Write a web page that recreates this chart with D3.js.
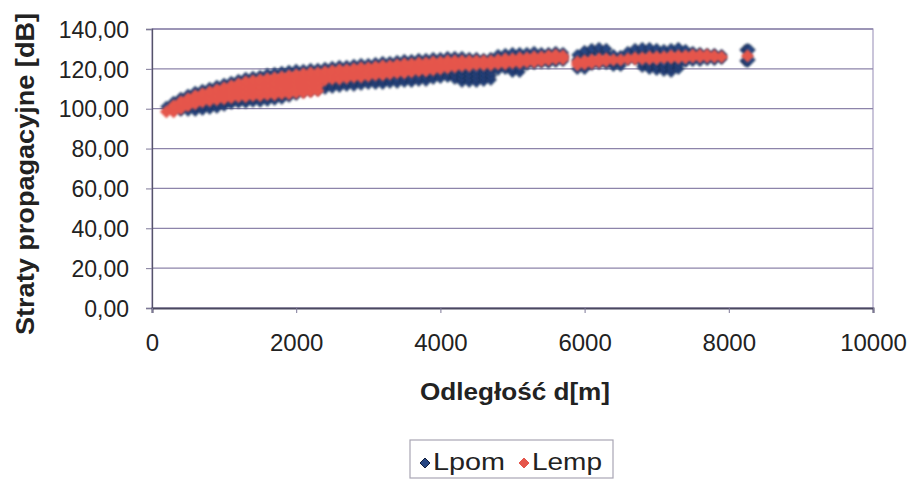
<!DOCTYPE html>
<html>
<head>
<meta charset="utf-8">
<script src="https://cdn.jsdelivr.net/npm/d3@7"></script>
<style>
  html, body { margin: 0; padding: 0; background: #fff; }
  svg { display: block; font-family: "Liberation Sans", Arial, sans-serif; }
</style>
</head>
<body>
<svg id="chart" width="913" height="481"></svg>
<script>
// Propagation loss vs. distance: measured (Lpom) and empirical model (Lemp).
// Each distance bin [m] holds the loss values [dB] recorded in that bin.
const distance = [
  200, 300, 400, 500, 600, 700, 800, 900, 1000, 1100,
  1200, 1300, 1400, 1500, 1600, 1700, 1800, 1900, 2000, 2100,
  2200, 2300, 2400, 2500, 2600, 2700, 2800, 2900, 3000, 3100,
  3200, 3300, 3400, 3500, 3600, 3700, 3800, 3900, 4000, 4100,
  4200, 4300, 4400, 4500, 4600, 4700, 4800, 4900, 5000, 5100,
  5200, 5300, 5400, 5500, 5600, 5700,
  5900, 6000, 6100, 6200, 6300, 6400, 6500, 6600, 6700, 6800,
  6900, 7000, 7100, 7200, 7300, 7400, 7500, 7600, 7700, 7800, 7900,
  8230, 8260, 8290
];

const lpom = [
  [101], [100, 103.5], [99, 102, 105.5], [99, 101.5, 104, 107], [99, 101, 103, 106, 108.5],
  [99.5, 101.5, 103.5, 106.5, 109.5], [100, 102, 104, 107, 110.5], [100.5, 102.5, 104.5, 108, 111.5],
  [101.5, 103.5, 105, 109, 112.5], [102.5, 104.5, 106, 110, 113.5],
  [103, 105, 107, 111, 114.5], [103, 105, 106.5, 111, 115.5], [103.5, 105.5, 107, 112, 116],
  [103.5, 105.5, 107, 112.5, 116.5], [104, 106, 107.5, 113, 117.5], [104.5, 106.5, 108, 113.5, 118],
  [105, 107, 108.5, 114, 118.5], [106, 108, 115, 119], [107, 109, 115.5, 119.5], [108.5, 112, 116, 119.5],
  [109, 113, 116.5, 120], [109.5, 113.5, 117, 120], [110, 112, 114, 117, 120.5],
  [110.5, 112.5, 114.5, 117.5, 121], [111, 113, 115, 118, 121.5], [111.5, 113.5, 115.5, 118.5, 121.5],
  [111.5, 113.5, 115.5, 119, 122], [112, 114, 116, 119, 122.5], [112.5, 114.5, 116.5, 119.5, 122.5],
  [112.5, 114.5, 116.5, 120, 123],
  [112.5, 114.5, 116.5, 120.5, 123.5], [113, 115, 117, 120.5, 123.5], [113, 115, 117.5, 121, 124],
  [113.5, 115.5, 117.5, 121, 124.5], [113.5, 115.5, 118, 121.5, 124.5], [114, 116, 118.5, 122, 125],
  [114, 116, 118, 121.5, 125], [115, 117, 119, 122.5, 125.5], [115.5, 117.5, 119.5, 122, 125.5],
  [116, 118, 120, 123, 126],
  [115, 117, 119, 121, 123.5, 126], [113.5, 115.5, 117.5, 119.5, 121.5, 126],
  [113.5, 115.5, 117.5, 119.5, 121.5, 125.5], [113.5, 115.5, 117.5, 119.5, 122, 125.5],
  [114, 116, 118, 120, 122, 125], [114.5, 116.5, 118.5, 120.5, 122.5, 125.5],
  [119.5, 121.5, 124, 127], [120, 122, 124.5, 127.5], [118.5, 120.5, 123, 125.5, 128],
  [118.5, 120.5, 123, 125.5, 128],
  [122, 124.5, 128], [122.5, 125, 128.5], [123, 125.5, 128], [123, 125.5, 128],
  [123.5, 126, 128.5], [124, 126, 128],
  [120, 124.5, 127], [120, 122, 126, 129], [122, 127, 130], [122.5, 127.5, 130.5],
  [122.5, 127.5, 130], [121.5, 123.5, 127], [121.5, 123.5, 126.5], [124.5, 128.5],
  [125, 127.5, 130], [121, 123, 127.5, 130.5],
  [120, 122, 124, 128, 130.5], [119.5, 121.5, 123.5, 128, 130], [119, 121, 123, 127.5, 129.5],
  [118.5, 120.5, 122.5, 124.5, 130], [120, 122, 124, 128, 130.5], [123.5, 127.5, 129.5],
  [124, 128.5], [124, 128], [124.5, 127.5], [124.5, 127.5], [125, 127],
  [124, 129.5], [123.5, 130], [124.5, 129.5]
];

const lemp = [
  [98.5], [98.5, 100, 101.5], [100, 102, 103.5], [101.5, 103.5, 105], [102.5, 104.5, 106.5],
  [103.5, 105.5, 107.5], [104, 106, 108.5], [104.5, 107, 109.5], [105, 107, 109, 110.5],
  [105.5, 107.5, 109.5, 111.5],
  [106, 108, 110.5, 112.5], [106, 108.5, 111, 113.5], [106.5, 109, 111.5, 114],
  [106.5, 109, 112, 114.5], [107, 109.5, 112.5, 115], [107, 110, 113, 115.5],
  [107.5, 110.5, 113.5, 116], [107.5, 110, 112.5, 114.5, 116.5], [108, 110.5, 113, 115, 117],
  [108, 110.5, 113, 115.5, 117.5],
  [108.5, 111, 113.5, 116, 118], [109, 111.5, 114, 116.5, 118], [114.5, 116.5, 118.5],
  [115, 117, 119], [115, 117.5, 119.5], [115.5, 117.5, 119.5], [116, 118, 120],
  [116, 118.5, 120.5], [116.5, 118.5, 120.5], [117, 119, 121],
  [117, 119.5, 121.5], [117.5, 119.5, 121.5], [118, 120, 122], [118, 120.5, 122.5],
  [118.5, 120.5, 122.5], [119, 121, 123], [119, 121, 123], [119.5, 121.5, 123.5],
  [120, 122, 123.5], [120.5, 122.5, 124],
  [121, 122.5, 124], [121.5, 124], [121.5, 124], [122, 124], [122, 124], [122, 124],
  [122.5, 124.5], [122.5, 125], [123, 125], [123, 125.5],
  [123.5, 125.5], [123.5, 126], [124, 126], [124.5, 126.5], [125, 127], [125, 126.5],
  [122, 123.5], [122.5, 124], [123, 124.5], [123.5, 125], [124, 125], [124.5], [124.5],
  [125], [125, 125.5], [125, 125.5],
  [125, 126], [125, 126], [125.5, 126], [125.5, 126.5], [125.5, 126.5], [125.5, 126.5],
  [126, 127], [126, 127], [126, 127], [126, 126.5], [126],
  [], [126.5], []
];

const yTicks = [0, 20, 40, 60, 80, 100, 120, 140];
const xTicks = [0, 2000, 4000, 6000, 8000, 10000];
const seriesNames = ["Lpom", "Lemp"];

const svg = d3.select("#chart");
const x = d3.scaleLinear().domain([0, 10000]).range([152, 873]);
const y = d3.scaleLinear().domain([0, 140]).range([308, 29]);

const colors = { Lpom: { fill: "#274683", stroke: "#121f3d" }, Lemp: { fill: "#e5564c", stroke: "#e5564c" } };
const diamond = r => `M0,${-r}L${r},0L0,${r}L${-r},0Z`;
const comma = d3.formatLocale({ decimal: ",", thousands: " ", grouping: [3], currency: ["", ""] });
const fmtY = comma.format(".2f");

// soft edge for the dense marker clouds
const defs = svg.append("defs");
defs.append("filter").attr("id", "soft").attr("x", "-5%").attr("y", "-20%")
  .attr("width", "110%").attr("height", "140%")
  .append("feGaussianBlur").attr("stdDeviation", 0.9);

// plot frame and horizontal gridlines
svg.append("rect")
  .attr("x", x(0)).attr("y", y(140))
  .attr("width", x(10000) - x(0)).attr("height", y(0) - y(140))
  .attr("fill", "none").attr("stroke", "#a79fc2").attr("stroke-width", 1.2);

svg.append("g").selectAll("line").data(yTicks.filter(v => v > 0)).join("line")
  .attr("x1", x(0)).attr("x2", x(10000))
  .attr("y1", d => y(d)).attr("y2", d => y(d))
  .attr("stroke", "#8d84aa").attr("stroke-width", 1.3);

// axes
const yAxis = svg.append("g").attr("transform", `translate(${x(0)},0)`)
  .call(d3.axisLeft(y).tickValues(yTicks).tickSize(6).tickPadding(17).tickFormat(fmtY));
yAxis.select(".domain").attr("stroke", "#55536a").attr("stroke-width", 1.3);
yAxis.selectAll(".tick line").attr("stroke", "#7d7898");
yAxis.selectAll(".tick text").attr("font-size", 23).attr("fill", "#222").attr("dy", "0.36em");

const xAxis = svg.append("g").attr("transform", `translate(0,${y(0)})`)
  .call(d3.axisBottom(x).tickValues(xTicks).tickSize(5).tickPadding(21).tickFormat(d3.format("d")));
xAxis.select(".domain").attr("stroke", "#4a4860").attr("stroke-width", 2);
xAxis.selectAll(".tick line").attr("stroke", "#7d7898");
xAxis.selectAll(".tick text").attr("font-size", 24).attr("fill", "#222");

// scatter points, measured first so the model band lies on top
const seriesData = { Lpom: lpom, Lemp: lemp };
const sizes = { Lpom: 5.5, Lemp: 5.5 };
seriesNames.forEach(name => {
  const pts = distance.flatMap((d, i) => seriesData[name][i].map(v => ({ d, v })));
  svg.append("g").attr("filter", "url(#soft)")
    .selectAll("path").data(pts).join("path")
    .attr("d", diamond(sizes[name]))
    .attr("transform", p => `translate(${x(p.d)},${y(p.v)})`)
    .attr("fill", colors[name].fill)
    .attr("stroke", colors[name].stroke)
    .attr("stroke-width", name === "Lemp" ? 1.5 : 1);
});

// axis titles
svg.append("text")
  .attr("transform", `translate(34,174) rotate(-90)`)
  .attr("text-anchor", "middle").attr("font-weight", "bold").attr("font-size", 25)
  .attr("fill", "#222")
  .attr("textLength", 322).attr("lengthAdjust", "spacingAndGlyphs")
  .text("Straty propagacyjne [dB]");

svg.append("text")
  .attr("x", 515).attr("y", 400)
  .attr("text-anchor", "middle").attr("font-weight", "bold").attr("font-size", 24)
  .attr("fill", "#222")
  .attr("textLength", 190).attr("lengthAdjust", "spacingAndGlyphs")
  .text("Odległość d[m]");

// legend
const legend = svg.append("g");
legend.append("rect").attr("x", 410).attr("y", 440).attr("width", 203).attr("height", 38)
  .attr("fill", "#fff").attr("stroke", "#a9a6b4").attr("stroke-width", 1.2);
const legendItems = [{ name: "Lpom", mx: 425, tx: 433, w: 72 }, { name: "Lemp", mx: 524, tx: 532, w: 70 }];
legendItems.forEach(it => {
  legend.append("path").attr("d", diamond(5))
    .attr("transform", `translate(${it.mx},463)`)
    .attr("fill", colors[it.name].fill).attr("stroke", colors[it.name].stroke);
  legend.append("text").attr("x", it.tx).attr("y", 470)
    .attr("font-size", 23).attr("fill", "#222")
    .attr("textLength", it.w).attr("lengthAdjust", "spacingAndGlyphs")
    .text(it.name);
});
</script>
</body>
</html>
